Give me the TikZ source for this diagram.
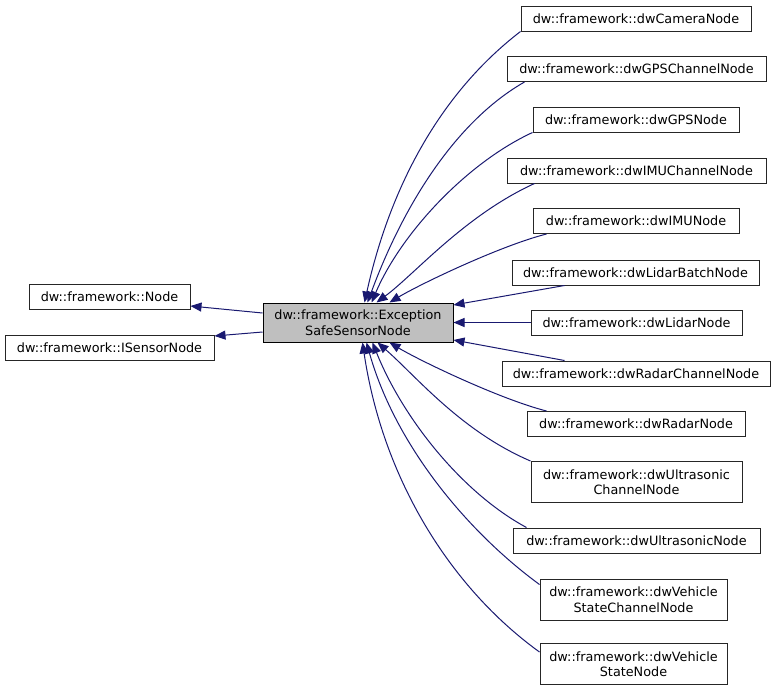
\documentclass[tikz,border=0pt]{standalone}
\usepackage{fontspec}
\setmainfont{DejaVu Sans}
\usetikzlibrary{arrows.meta}
\definecolor{edgeblue}{HTML}{191970}
\definecolor{basegray}{HTML}{BFBFBF}

\begin{document}
\begin{tikzpicture}[x=1pt, y=-1pt,
	cls/.style={draw=black!85, fill=white, line width=1pt, minimum height=25pt, inner sep=0pt, align=center, font=\fontsize{12.8}{15.5}\selectfont},
	tall/.style={minimum height=41pt},
	edge/.style={draw=edgeblue, line width=1pt, {Triangle[length=11pt,width=9pt]}-}]
	\useasboundingbox (0,0) rectangle (777,691);

	\node[cls, minimum width=161pt] (fwnode) at (109.5,297) {dw::framework::Node};
	\node[cls, minimum width=209pt] (isensor) at (109.5,347.5) {dw::framework::ISensorNode};
	\node[cls, fill=basegray, draw=black, minimum width=190pt, minimum height=39pt] (exc) at (358,322.5) {dw::framework::Exception\\SafeSensorNode};

	\node[cls, minimum width=230pt] (camera) at (636,18.5) {dw::framework::dwCameraNode};
	\node[cls, minimum width=259pt] (gpsch) at (636.5,69) {dw::framework::dwGPSChannelNode};
	\node[cls, minimum width=206pt] (gps) at (636,119.5) {dw::framework::dwGPSNode};
	\node[cls, minimum width=259pt] (imuch) at (636.5,170.5) {dw::framework::dwIMUChannelNode};
	\node[cls, minimum width=206pt] (imu) at (636,221) {dw::framework::dwIMUNode};
	\node[cls, minimum width=247pt] (lidarbatch) at (635.5,272.5) {dw::framework::dwLidarBatchNode};
	\node[cls, minimum width=211pt] (lidar) at (636.5,322.5) {dw::framework::dwLidarNode};
	\node[cls, minimum width=268pt] (radarch) at (636,373.5) {dw::framework::dwRadarChannelNode};
	\node[cls, minimum width=218pt] (radar) at (636,424) {dw::framework::dwRadarNode};
	\node[cls, tall, minimum width=211pt] (usch) at (636.5,482) {dw::framework::dwUltrasonic\\ChannelNode};
	\node[cls, minimum width=247pt] (us) at (636.5,540.5) {dw::framework::dwUltrasonicNode};
	\node[cls, tall, minimum width=187pt] (vsch) at (633.5,599.5) {dw::framework::dwVehicle\\StateChannelNode};
	\node[cls, tall, minimum width=187pt] (vs) at (633.5,664) {dw::framework::dwVehicle\\StateNode};

	\draw[edge] ([yshift=-9pt]fwnode.east) -- ([yshift=9.5pt]exc.west);
	\draw[edge] ([yshift=11.5pt]isensor.east) -- ([yshift=-9.5pt]exc.west);

	\draw[edge] ([xshift=102pt]exc.north west) .. controls +(25,-113) and +(-82,63) .. (camera.south west);
	\draw[edge] ([xshift=105pt]exc.north west) .. controls +(35,-95) and +(-70,40) .. ([xshift=18pt]gpsch.south west);
	\draw[edge] ([xshift=109pt]exc.north west) .. controls +(30,-70) and +(-65,30) .. (gps.south west);
	\draw[edge] ([xshift=114pt]exc.north west) .. controls +(38,-28) and +(-70,32) .. ([xshift=28pt]imuch.south west);
	\draw[edge] ([xshift=127pt]exc.north west) .. controls +(30,-18) and +(-47,12) .. ([xshift=14pt]imu.south west);
	\draw[edge] ([yshift=-2.5pt]exc.north east) -- ([xshift=53pt]lidarbatch.south west);
	\draw[edge] (exc.east) -- (lidar.west);
	\draw[edge] ([yshift=2.5pt]exc.south east) -- ([xshift=63pt]radarch.north west);
	\draw[edge] ([xshift=127pt]exc.south west) .. controls +(30,18) and +(-47,-12) .. ([xshift=20pt]radar.north west);
	\draw[edge] ([xshift=115pt]exc.south west) .. controls +(38,33) and +(-70,-30) .. (usch.north west);
	\draw[edge] ([xshift=110pt]exc.south west) .. controls +(30,75) and +(-65,-35) .. ([xshift=14pt]us.north west);
	\draw[edge] ([xshift=104pt]exc.south west) .. controls +(28,100) and +(-75,-55) .. ([yshift=-6pt]vsch.north west);
	\draw[edge] ([xshift=100pt]exc.south west) .. controls +(20,135) and +(-90,-65) .. ([yshift=-9pt]vs.north west);
\end{tikzpicture}
\end{document}
